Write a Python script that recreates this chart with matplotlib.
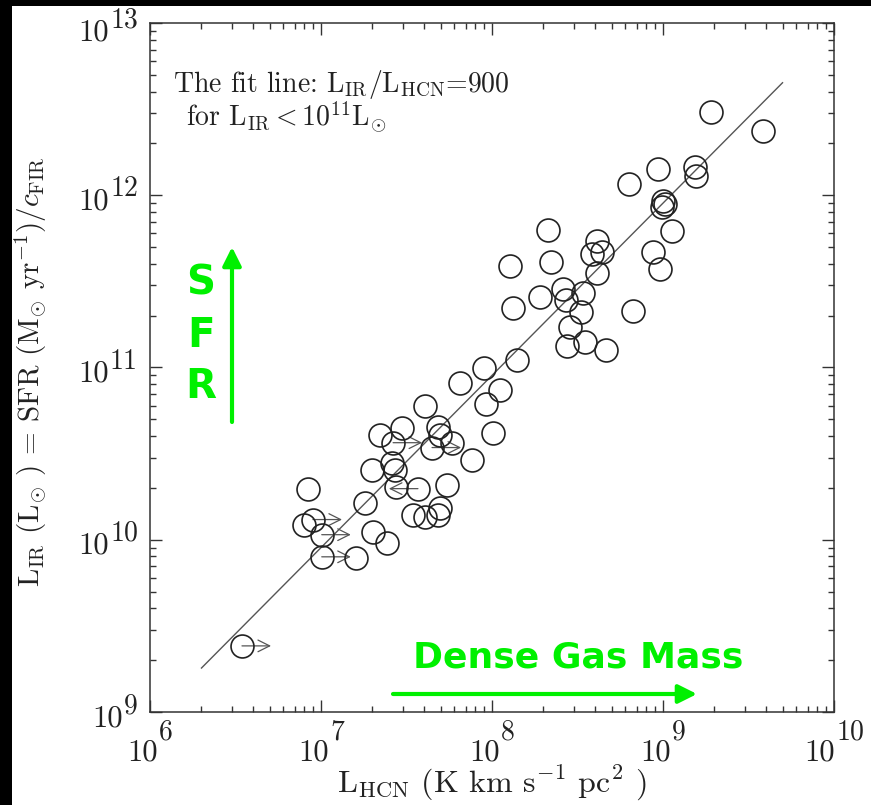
import numpy as np
import matplotlib.pyplot as plt
from matplotlib.patches import Rectangle
from matplotlib.ticker import LogLocator, NullFormatter

plt.rcParams['mathtext.fontset'] = 'cm'
plt.rcParams['axes.unicode_minus'] = False

# HCN luminosity (K km s^-1 pc^2) and IR luminosity (L_sun) for the sample
l_hcn = [3.45e6, 8.4e6, 8.97e6, 7.96e6, 1.01e7, 1.01e7, 1.60e7, 1.81e7, 2.01e7, 2.43e7,
         1.99e7, 2.21e7, 2.98e7, 2.64e7, 2.60e7, 2.71e7, 2.75e7, 3.69e7, 4.06e7, 4.83e7,
         4.96e7, 5.83e7, 4.46e7, 7.64e7, 5.46e7, 3.45e7, 4.06e7, 4.83e7, 4.96e7, 6.50e7,
         8.98e7, 1.11e8, 9.23e7, 1.01e8, 1.40e8, 1.33e8, 1.27e8, 1.91e8, 2.12e8, 2.21e8,
         2.60e8, 2.71e8, 3.41e8, 3.31e8, 2.86e8, 2.75e8, 3.50e8, 4.65e8, 4.11e8, 4.40e8,
         3.85e8, 4.11e8, 6.68e8, 8.75e8, 9.60e8, 6.32e8, 9.35e8, 1.00e9, 1.03e9, 9.87e8,
         1.13e9, 1.54e9, 1.56e9, 1.91e9, 3.85e9]
l_ir = [2.42e9, 1.98e10, 1.31e10, 1.21e10, 1.07e10, 7.96e9, 7.86e9, 1.64e10, 1.11e10, 9.6e9,
        2.55e10, 4.08e10, 4.48e10, 3.66e10, 2.80e10, 2.55e10, 2.03e10, 1.98e10, 6.01e10, 4.54e10,
        4.08e10, 3.66e10, 3.43e10, 2.92e10, 2.09e10, 1.40e10, 1.36e10, 1.40e10, 1.53e10, 8.18e10,
        9.87e10, 7.45e10, 6.18e10, 4.19e10, 1.10e11, 2.23e11, 3.87e11, 2.55e11, 6.27e11, 4.08e11,
        2.84e11, 2.48e11, 2.69e11, 2.09e11, 1.71e11, 1.34e11, 1.40e11, 1.27e11, 5.41e11, 4.67e11,
        4.54e11, 3.56e11, 2.12e11, 4.67e11, 3.72e11, 1.17e12, 1.42e12, 9.23e11, 8.87e11, 8.52e11,
        6.18e11, 1.46e12, 1.29e12, 3.04e12, 2.36e12]
# 1 = lower limit on L_HCN (arrow right), -1 = upper limit (arrow left)
hcn_limit = [1, 0, 1, 0, 1, 1, 0, 0, 0, 0,
             0, 0, 0, 1, 0, 0, 0, -1, 0, 0,
             0, 0, 1, 0, 0, 0, 0, 0, 0, 0,
             0, 0, 0, 0, 0, 0, 0, 0, 0, 0,
             0, 0, 0, 0, 0, 0, 0, 0, 0, 0,
             0, 0, 0, 0, 0, 0, 0, 0, 0, 0,
             0, 0, 0, 0, 0]

fit_ratio = 900
fit_range = [2e6, 5e9]
x_decades = [6, 7, 8, 9, 10]
y_decades = [9, 10, 11, 12, 13]

green = '#00f000'
ink = '#222222'
serif = 'cmr10'


def pt(pix):
    return pix * 0.72


fig = plt.figure(figsize=(8.71, 8.05), dpi=100)
fig.patch.set_facecolor('white')
ax = fig.add_axes([150 / 871, 1 - 712 / 805, 684 / 871, 689 / 805])
ax.set_xscale('log')
ax.set_yscale('log')
ax.set_xlim(1e6, 1e10)
ax.set_ylim(1e9, 1e13)

# fit line L_IR = 900 L_HCN
xf = np.array(fit_range)
ax.plot(xf, fit_ratio * xf, color='#555555', lw=1.0, zorder=1)

ax.plot(l_hcn, l_ir, 'o', ms=16.5, mfc='none', mec=ink, mew=1.2, zorder=3)

for x, y, lim in zip(l_hcn, l_ir, hcn_limit):
    if lim == 0:
        continue
    ax.annotate('', xy=(x * 10 ** (0.17 * lim), y), xytext=(x, y),
                arrowprops=dict(arrowstyle='->,head_length=0.7,head_width=0.35',
                                color='#555555', lw=0.9, shrinkA=0, shrinkB=0,
                                mutation_scale=12), zorder=2)

# ticks
for axis in (ax.xaxis, ax.yaxis):
    axis.set_major_locator(LogLocator(base=10, numticks=10))
    axis.set_minor_locator(LogLocator(base=10, subs=np.arange(2, 10), numticks=10))
    axis.set_major_formatter(NullFormatter())
    axis.set_minor_formatter(NullFormatter())
ax.tick_params(which='both', direction='in', top=True, right=True, color='#333333', width=1.0)
ax.tick_params(which='major', length=8.5)
ax.tick_params(which='minor', length=4)
for sp in ax.spines.values():
    sp.set_color('#333333')
    sp.set_linewidth(1.1)

# tick labels as "10" with a large exponent
base_fs, exp_fs = 22, 20
w10, wdig = 31, 13.9
for e in x_decades:
    wexp = wdig * len(str(e))
    tot = w10 + 1 + wexp
    ax.annotate('10', xy=(10.0 ** e, 0), xycoords=('data', 'axes fraction'),
                xytext=(pt(tot / 2 - wexp - 1), pt(-48)), textcoords='offset points',
                ha='right', va='baseline', fontsize=base_fs, family=serif, color=ink,
                annotation_clip=False)
    ax.annotate(str(e), xy=(10.0 ** e, 0), xycoords=('data', 'axes fraction'),
                xytext=(pt(tot / 2 - wexp), pt(-27)), textcoords='offset points',
                ha='left', va='baseline', fontsize=exp_fs, family=serif, color=ink,
                annotation_clip=False)
for e in y_decades:
    wexp = wdig * len(str(e))
    drop = 5 + (4 if e == y_decades[-1] else 0)
    ax.annotate('10', xy=(0, 10.0 ** e), xycoords=('axes fraction', 'data'),
                xytext=(pt(-12 - wexp - 1), pt(-9 - drop)), textcoords='offset points',
                ha='right', va='baseline', fontsize=base_fs, family=serif, color=ink,
                annotation_clip=False)
    ax.annotate(str(e), xy=(0, 10.0 ** e), xycoords=('axes fraction', 'data'),
                xytext=(pt(-12), pt(4 - drop)), textcoords='offset points',
                ha='right', va='baseline', fontsize=exp_fs, family=serif, color=ink,
                annotation_clip=False)

# axis titles
fig.text(31 / 871, 1 - 372 / 805,
         r'L$_{\mathrm{IR}}$ (L$_{\odot}$ ) = SFR (M$_{\odot}$ yr$^{-1}$)/$c_{\mathrm{FIR}}$',
         rotation=90, ha='center', va='center', fontsize=21, family=serif, color=ink)
fig.text(492 / 871, 1 - 792 / 805,
         r'L$_{\mathrm{HCN}}$ (K km s$^{-1}$ pc$^{2}$ )',
         ha='center', va='baseline', fontsize=23, family=serif, color=ink)

# fit note
ax.annotate(r'The fit line: L$_{\mathrm{IR}}$/L$_{\mathrm{HCN}}$=900', xy=(173, 805 - 92),
            xycoords='figure pixels', ha='left', va='baseline', fontsize=20,
            family=serif, color=ink)
ax.annotate(r'for L$_{\mathrm{IR}}$$<$10$^{11}$L$_{\odot}$', xy=(186, 805 - 127),
            xycoords='figure pixels', ha='left', va='baseline', fontsize=20,
            family=serif, color=ink)

# green overlays
for letter, yc in zip('SFR', [283, 336, 387]):
    fig.text(201 / 871, 1 - yc / 805, letter, ha='center', va='center',
             fontsize=29, fontweight='bold', color=green)
ax.annotate('', xy=(232, 805 - 247), xytext=(232, 805 - 422), xycoords='figure pixels',
            arrowprops=dict(arrowstyle='-|>,head_length=0.7,head_width=0.35', color=green,
                            lw=3, shrinkA=0, shrinkB=0, mutation_scale=16))
fig.text(413 / 871, 1 - 667 / 805, 'Dense Gas Mass', ha='left', va='baseline',
         fontsize=26, fontweight='bold', color=green)
ax.annotate('', xy=(697, 805 - 694), xytext=(393, 805 - 694), xycoords='figure pixels',
            arrowprops=dict(arrowstyle='-|>,head_length=0.7,head_width=0.35', color=green,
                            lw=3, shrinkA=0, shrinkB=0, mutation_scale=16))

# dark slide border
fig.add_artist(Rectangle((0, 0), 12 / 871, 1, transform=fig.transFigure,
                         facecolor='black', edgecolor='none'))
fig.add_artist(Rectangle((0, 1 - 6 / 805), 1, 6 / 805, transform=fig.transFigure,
                         facecolor='black', edgecolor='none'))

fig.savefig('out.png', dpi=100)
